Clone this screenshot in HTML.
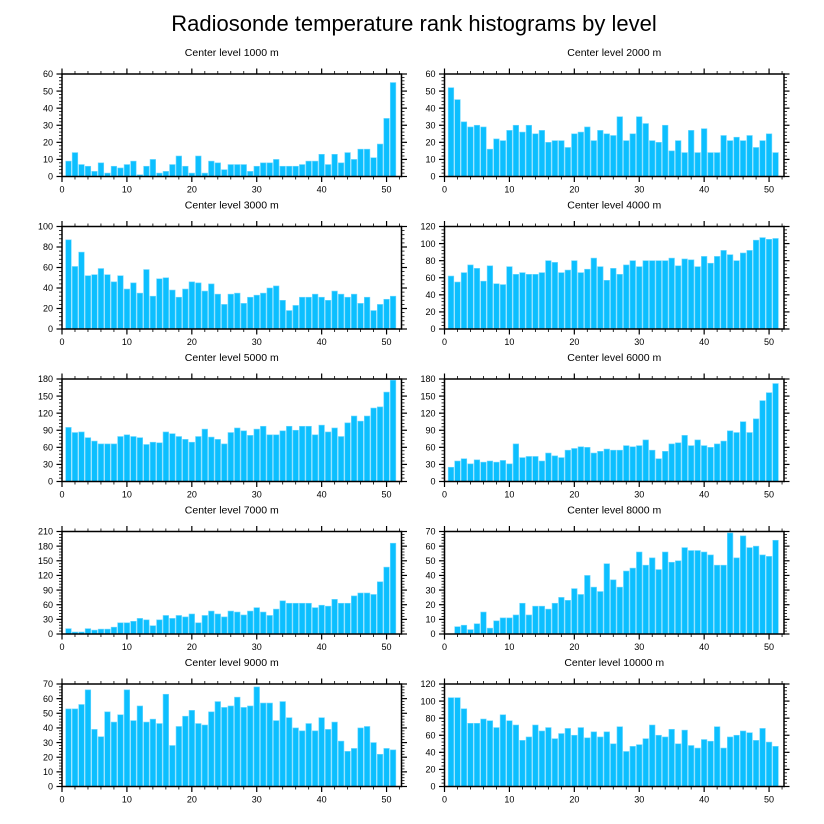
<!DOCTYPE html>
<html><head><meta charset="utf-8"><style>
html,body{margin:0;padding:0;background:#fff;}
svg{display:block;font-family:"Liberation Sans",Arial,sans-serif;}
</style></head><body>
<svg id="chart" width="824" height="824" viewBox="0 0 824 824" xmlns="http://www.w3.org/2000/svg">
<rect width="824" height="824" fill="#fff"/>
<text x="414" y="31" font-size="22" text-anchor="middle" fill="#000">Radiosonde temperature rank histograms by level</text>
</svg>
<script>
const levels = ["1000","2000","3000","4000","5000","6000","7000","8000","9000","10000"];
const v1000 = [9,14,7,6,3,8,2,6,5,7,9,1,6,10,2,3,7,12,6,2,12,2,9,8,4,7,7,7,3,6,8,8,10,6,6,6,7,9,9,13,7,13,8,14,10,16,16,11,19,34,55];
const v2000 = [52,45,32,29,30,29,16,22,21,27,30,26,30,25,27,20,21,21,17,25,26,29,21,27,25,24,35,21,25,35,31,21,20,30,15,21,14,27,14,28,14,14,24,21,23,21,24,17,21,25,14];
const v3000 = [87,61,75,52,53,59,53,46,52,39,45,35,58,32,49,50,38,31,39,46,45,37,44,34,24,34,35,25,31,33,35,40,42,28,18,23,31,31,34,31,28,37,34,31,34,25,31,18,24,29,32];
const v4000 = [62,55,66,75,71,56,74,53,52,73,64,66,64,64,66,80,78,66,69,80,66,70,83,73,57,71,64,75,80,73,80,80,80,80,83,74,82,81,73,85,77,85,92,87,80,89,92,104,107,105,106];
const v5000 = [95,86,87,77,71,66,66,66,79,82,79,77,65,69,68,87,84,79,74,69,79,92,78,74,66,86,94,89,81,92,97,82,82,89,97,90,97,97,82,99,87,94,79,103,115,106,115,129,131,157,178];
const v6000 = [25,36,40,31,38,34,36,34,37,31,66,42,44,44,36,50,45,42,55,58,61,60,50,53,57,55,55,63,61,63,73,55,40,53,66,68,81,63,73,63,60,66,71,89,86,105,86,110,142,156,172];
const v7000 = [11,4,4,11,8,10,10,14,23,23,26,32,29,17,29,38,32,38,35,41,23,38,47,41,35,47,45,39,47,54,45,38,51,68,63,63,63,63,54,59,57,71,63,63,78,84,84,81,107,137,186];
const v8000 = [0,5,6,3,7,15,4,9,11,11,13,21,13,19,19,17,21,25,23,31,27,40,32,29,48,37,32,43,45,56,47,52,44,56,49,50,59,57,57,56,54,47,47,69,52,67,59,60,54,53,64];
const v9000 = [53,53,56,66,39,34,51,44,49,66,45,55,44,46,43,63,28,41,48,52,43,42,51,58,54,55,61,54,55,68,57,57,45,58,47,40,38,43,38,47,39,44,31,24,26,40,41,30,22,26,25];
const v10000 = [104,104,91,74,74,79,77,69,84,77,72,54,58,72,65,69,56,62,68,60,69,57,64,58,64,50,70,41,47,49,56,72,60,58,67,50,66,48,45,55,53,70,45,58,60,65,63,54,68,52,47];
const yMaxes = [60,60,100,120,180,180,210,70,70,120];
const ySteps = [10,10,20,20,30,30,30,10,10,20];
const xTicks = [0,10,20,30,40,50];
const series = [v1000,v2000,v3000,v4000,v5000,v6000,v7000,v8000,v9000,v10000];

const NS = "http://www.w3.org/2000/svg";
const svg = document.getElementById('chart');
function mk(tag, attrs, parent){ const e=document.createElementNS(NS,tag); for(const k in attrs) e.setAttribute(k,attrs[k]); (parent||svg).appendChild(e); return e; }

const X0s=[62,444.5], W=339.5, Y0s=[74,226.5,379,531.5,684], H=102.5, XMAX=52.3;

series.forEach((vals,p)=>{
  const col=p%2, row=Math.floor(p/2);
  const L=X0s[col], T=Y0s[row], B=T+H, R=L+W;
  const ymax=yMaxes[p], step=ySteps[p];
  const xs=v=>L+v/XMAX*W, ys=v=>B-v/ymax*H;
  const g=mk('g',{});
  
  
  const t=mk('text',{x:(L+R)/2,y:T-18,'font-size':10.5,'text-anchor':'middle',fill:'#000'},g);
  t.textContent='Center level '+levels[p]+' m';
  
  
  vals.forEach((v,i)=>{
    if(v<=0) return;
    const x=i+1, bw=0.86;
    const r=mk('rect',{x:xs(x-bw/2),y:ys(v),width:xs(bw)-L,height:B-ys(v),fill:'#0cbfff',stroke:'#6fd8ff','stroke-width':0.6},g);
    
    
  });
  for(let v=0; v<=XMAX; v+=2){
    const major=v%10===0, len=major?5.5:3;
    mk('line',{x1:xs(v),x2:xs(v),y1:B,y2:B+len,stroke:'#000','stroke-width':major?1.2:0.8},g);
    mk('line',{x1:xs(v),x2:xs(v),y1:T,y2:T-len,stroke:'#000','stroke-width':major?1.2:0.8},g);
  }
  xTicks.forEach(v=>{
    const tl=mk('text',{x:xs(v),y:B+16,'font-size':9,'text-anchor':'middle',fill:'#000'},g);
    tl.textContent=v;
    
    
  });
  const minor=step/5;
  for(let k=0;k*minor<=ymax+1e-9;k++){
    const v=k*minor, major=k%5===0, len=major?5.5:3;
    mk('line',{x1:L,x2:L-len,y1:ys(v),y2:ys(v),stroke:'#000','stroke-width':major?1.2:0.8},g);
    mk('line',{x1:R,x2:R+len,y1:ys(v),y2:ys(v),stroke:'#000','stroke-width':major?1.2:0.8},g);
    if(major){
      const yl=mk('text',{x:L-9,y:ys(v)+3.2,'font-size':9,'text-anchor':'end',fill:'#000'},g);
      yl.textContent=Math.round(v);
      
      
    }
  }
  mk('rect',{x:L,y:T,width:W,height:H,fill:'none',stroke:'#000','stroke-width':1.5},g);
});
</script>
</body></html>
